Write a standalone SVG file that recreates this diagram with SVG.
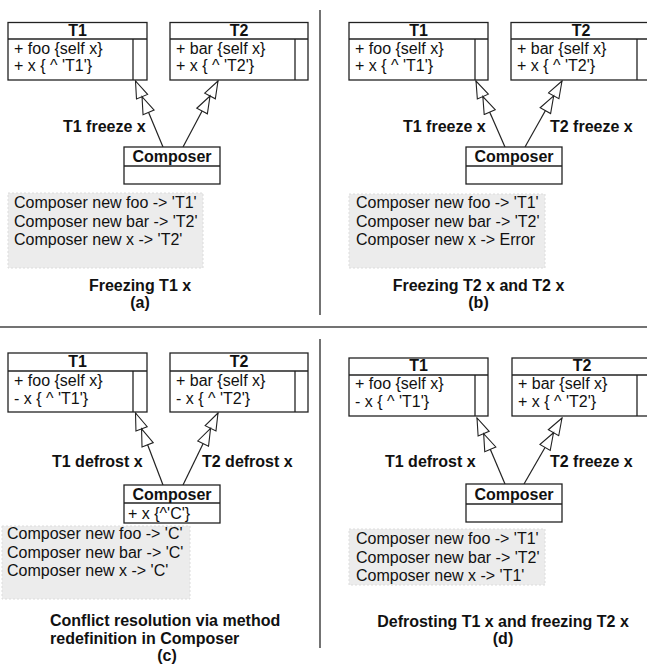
<svg xmlns="http://www.w3.org/2000/svg" width="647" height="668" viewBox="0 0 647 668">
<style>
text{font-family:"Liberation Sans",Arial,Helvetica,sans-serif;font-size:16px;fill:#111}
.b{font-weight:bold}
.m{text-anchor:middle}
.box{fill:#fff;stroke:#222;stroke-width:1.3}
.ln{stroke:#222;stroke-width:1.3;fill:none}
.note{fill:#ececec;stroke:#dcdcdc;stroke-width:1;stroke-dasharray:2 2}
.sep{stroke:#444;stroke-width:1.5}
.con{stroke:#222;stroke-width:1.2;fill:none;marker-end:url(#dtri)}
</style>
<defs>
<marker id="dtri" markerUnits="userSpaceOnUse" viewBox="0 -7 36 14" refX="35" refY="0" markerWidth="36" markerHeight="14" orient="auto">
<path d="M35,0 L18,-6 L18,6 Z M18,0 L1,-6 L1,6 Z" fill="#fff" stroke="#222" stroke-width="1.1"/>
</marker>
</defs>
<g id="separators">
<line class="sep" x1="320" y1="10" x2="320" y2="315"/>
<line class="sep" x1="0" y1="327" x2="647" y2="327"/>
<line class="sep" x1="320" y1="339" x2="320" y2="648"/>
</g>
<g id="connectors">
<line class="con" x1="163" y1="147" x2="135.5" y2="81"/>
<line class="con" x1="183" y1="147" x2="218" y2="81"/>
<line class="con" x1="505" y1="147" x2="476" y2="81"/>
<line class="con" x1="525" y1="147" x2="562" y2="81"/>
<line class="con" x1="163" y1="485" x2="135.5" y2="413"/>
<line class="con" x1="183" y1="485" x2="218" y2="413"/>
<line class="con" x1="505" y1="484" x2="477" y2="418"/>
<line class="con" x1="524" y1="484" x2="562" y2="418"/>
</g>
<!-- (a) -->
<g id="a-T1">
<rect class="box" x="8" y="22.5" width="139" height="57.5"/>
<line class="ln" x1="8" y1="39" x2="147" y2="39"/>
<line class="ln" x1="133" y1="39" x2="133" y2="80"/>
<text class="b m" x="77.5" y="35.5">T1</text>
<text x="14" y="53.5">+ foo {self x}</text>
<text x="14" y="71">+ x { ^ 'T1'}</text>
</g>
<g id="a-T2">
<rect class="box" x="170" y="22.5" width="138" height="57.5"/>
<line class="ln" x1="170" y1="39" x2="308" y2="39"/>
<line class="ln" x1="295" y1="39" x2="295" y2="80"/>
<text class="b m" x="239" y="35.5">T2</text>
<text x="176" y="53.5">+ bar {self x}</text>
<text x="176" y="71">+ x { ^ 'T2'}</text>
</g>
<g id="a-Composer">
<rect class="box" x="124" y="147" width="96" height="37"/>
<line class="ln" x1="124" y1="166" x2="220" y2="166"/>
<text class="b m" x="172" y="161.5">Composer</text>
</g>
<g id="a-labels">
<text class="b" x="63" y="132">T1 freeze x</text>
</g>
<g id="a-note">
<rect class="note" x="8" y="193" width="195" height="75"/>
<text x="14" y="208">Composer new foo -&gt; 'T1'</text>
<text x="14" y="227">Composer new bar -&gt; 'T2'</text>
<text x="14" y="245">Composer new x -&gt; 'T2'</text>
</g>
<g id="a-caption">
<text class="b m" x="140" y="290.5">Freezing T1 x</text>
<text class="b m" x="140" y="308">(a)</text>
</g>
<!-- (b) -->
<g id="b-T1">
<rect class="box" x="349" y="22.5" width="139" height="57.5"/>
<line class="ln" x1="349" y1="39" x2="488" y2="39"/>
<line class="ln" x1="475" y1="39" x2="475" y2="80"/>
<text class="b m" x="418.5" y="35.5">T1</text>
<text x="355" y="53.5">+ foo {self x}</text>
<text x="355" y="71">+ x { ^ 'T1'}</text>
</g>
<g id="b-T2">
<rect class="box" x="511" y="22.5" width="140" height="57.5"/>
<line class="ln" x1="511" y1="39" x2="651" y2="39"/>
<line class="ln" x1="637" y1="39" x2="637" y2="80"/>
<text class="b m" x="581" y="35.5">T2</text>
<text x="517" y="53.5">+ bar {self x}</text>
<text x="517" y="71">+ x { ^ 'T2'}</text>
</g>
<g id="b-Composer">
<rect class="box" x="466" y="147" width="96" height="37"/>
<line class="ln" x1="466" y1="166" x2="562" y2="166"/>
<text class="b m" x="514" y="161.5">Composer</text>
</g>
<g id="b-labels">
<text class="b" x="403" y="132">T1 freeze x</text>
<text class="b" x="550" y="132">T2 freeze x</text>
</g>
<g id="b-note">
<rect class="note" x="349" y="194" width="196" height="74"/>
<text x="356" y="208">Composer new foo -&gt; 'T1'</text>
<text x="356" y="227">Composer new bar -&gt; 'T2'</text>
<text x="356" y="245">Composer new x -&gt; Error</text>
</g>
<g id="b-caption">
<text class="b m" x="478.5" y="290.5">Freezing T2 x and T2 x</text>
<text class="b m" x="478.5" y="308">(b)</text>
</g>
<!-- (c) -->
<g id="c-T1">
<rect class="box" x="8" y="353" width="139" height="59"/>
<line class="ln" x1="8" y1="371" x2="147" y2="371"/>
<line class="ln" x1="133" y1="371" x2="133" y2="412"/>
<text class="b m" x="77.5" y="367">T1</text>
<text x="14" y="385.5">+ foo {self x}</text>
<text x="14" y="403.5">- x { ^ 'T1'}</text>
</g>
<g id="c-T2">
<rect class="box" x="170" y="353" width="138" height="59"/>
<line class="ln" x1="170" y1="371" x2="308" y2="371"/>
<line class="ln" x1="295" y1="371" x2="295" y2="412"/>
<text class="b m" x="239" y="367">T2</text>
<text x="176" y="385.5">+ bar {self x}</text>
<text x="176" y="403.5">- x { ^ 'T2'}</text>
</g>
<g id="c-Composer">
<rect class="box" x="124" y="485" width="96" height="38"/>
<line class="ln" x1="124" y1="503" x2="220" y2="503"/>
<text class="b m" x="172" y="499.5">Composer</text>
<text x="128" y="518.5">+ x {^'C'}</text>
</g>
<g id="c-labels">
<text class="b" x="52" y="467">T1 defrost x</text>
<text class="b" x="202" y="467">T2 defrost x</text>
</g>
<g id="c-note">
<rect class="note" x="2" y="526" width="188" height="73"/>
<text x="7" y="539">Composer new foo -&gt; 'C'</text>
<text x="7" y="557.5">Composer new bar -&gt; 'C'</text>
<text x="7" y="576">Composer new x -&gt; 'C'</text>
</g>
<g id="c-caption">
<text class="b" x="50" y="626">Conflict resolution via method</text>
<text class="b" x="50" y="644">redefinition in Composer</text>
<text class="b m" x="167" y="661">(c)</text>
</g>
<!-- (d) -->
<g id="d-T1">
<rect class="box" x="349" y="358" width="139" height="58"/>
<line class="ln" x1="349" y1="375" x2="488" y2="375"/>
<line class="ln" x1="475" y1="375" x2="475" y2="416"/>
<text class="b m" x="418.5" y="371">T1</text>
<text x="355" y="388.5">+ foo {self x}</text>
<text x="355" y="407">- x { ^ 'T1'}</text>
</g>
<g id="d-T2">
<rect class="box" x="512" y="358" width="140" height="58"/>
<line class="ln" x1="512" y1="375" x2="652" y2="375"/>
<line class="ln" x1="637" y1="375" x2="637" y2="416"/>
<text class="b m" x="582" y="371">T2</text>
<text x="518" y="388.5">+ bar {self x}</text>
<text x="518" y="407">+ x { ^ 'T2'}</text>
</g>
<g id="d-Composer">
<rect class="box" x="466" y="484" width="96" height="38"/>
<line class="ln" x1="466" y1="504" x2="562" y2="504"/>
<text class="b m" x="514" y="499.5">Composer</text>
</g>
<g id="d-labels">
<text class="b" x="385" y="467">T1 defrost x</text>
<text class="b" x="550" y="467">T2 freeze x</text>
</g>
<g id="d-note">
<rect class="note" x="349" y="529" width="196" height="56"/>
<text x="356" y="544">Composer new foo -&gt; 'T1'</text>
<text x="356" y="562.5">Composer new bar -&gt; 'T2'</text>
<text x="356" y="581">Composer new x -&gt; 'T1'</text>
</g>
<g id="d-caption">
<text class="b m" x="503" y="627">Defrosting T1 x and freezing T2 x</text>
<text class="b m" x="503" y="644">(d)</text>
</g>
</svg>
